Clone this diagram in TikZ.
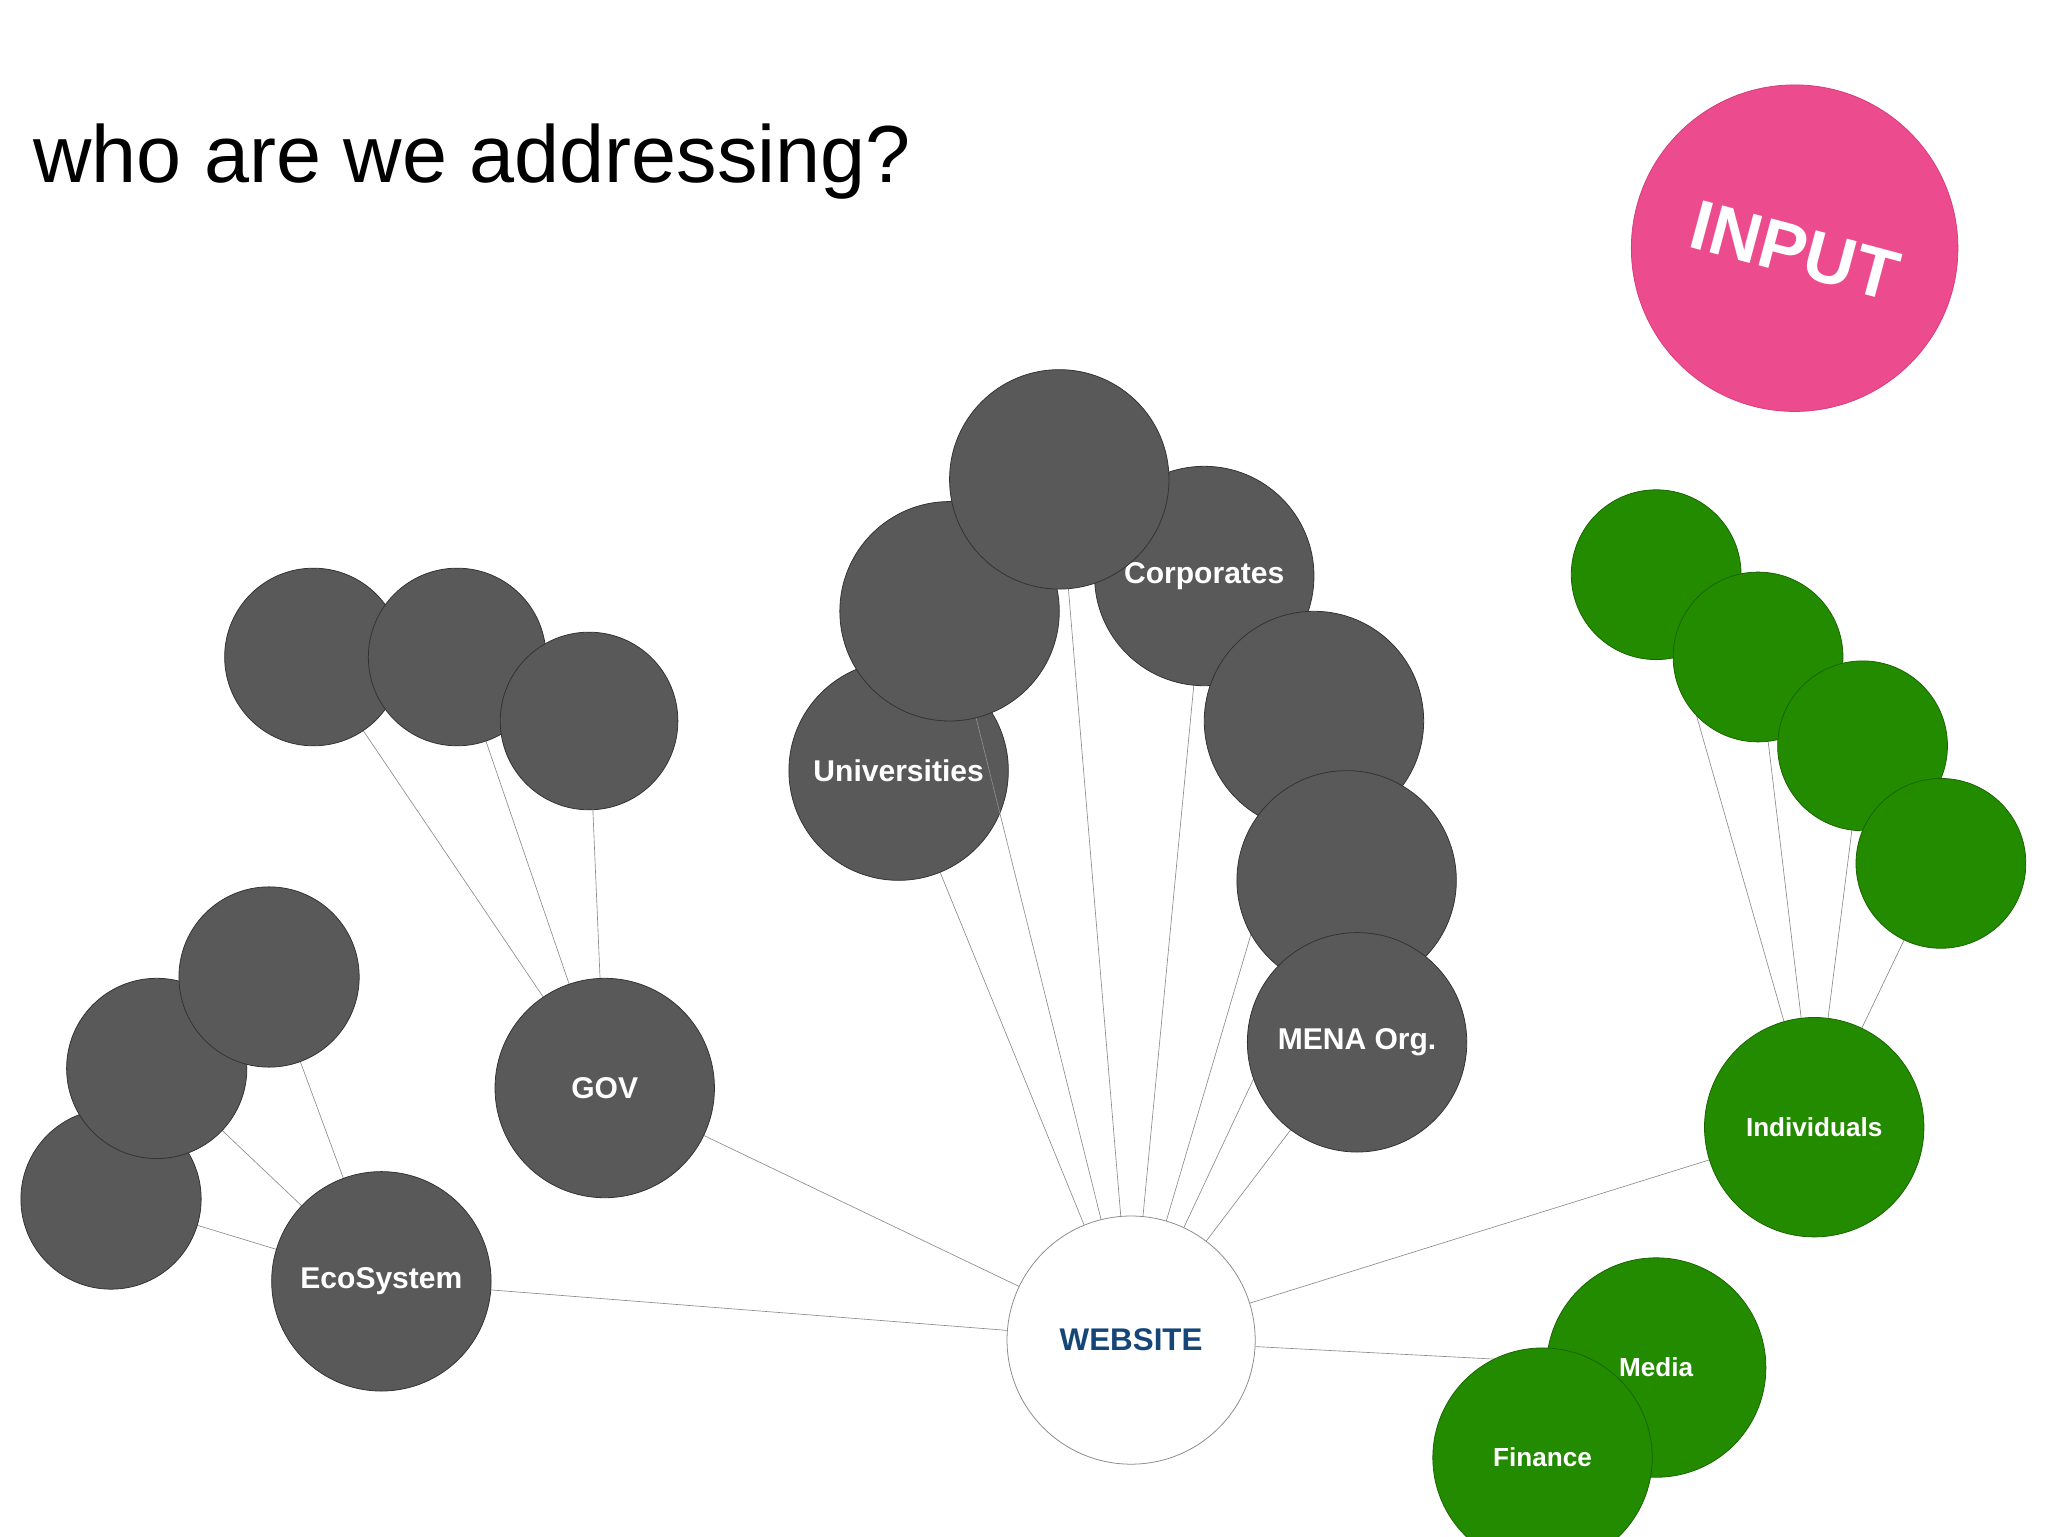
\documentclass[tikz,border=0pt]{standalone}
\usepackage{fontspec}
\setmainfont{Liberation Sans}
\begin{document}
\begin{tikzpicture}[x=1pt,y=-1pt,
  gc/.style={circle,fill=black!65,draw=black!80,line width=0.6pt,inner sep=0pt,text=white,font=\bfseries\fontsize{23}{26}\selectfont},
  gr/.style={circle,fill=grn,draw=grnd,line width=0.6pt,inner sep=0pt,text=white,font=\bfseries\fontsize{20}{23}\selectfont},
  ln/.style={draw=black!45,line width=0.5pt}]
\definecolor{grn}{RGB}{35,139,0}
\definecolor{grnd}{RGB}{25,100,0}
\useasboundingbox (0,0) rectangle (1568,1176);
\clip (0,0) rectangle (1568,1176);
% coordinates
\coordinate (w) at (866,1026);
\coordinate (gov) at (463,833);
\coordinate (eco) at (292,981);
\coordinate (ind) at (1389,863);
\coordinate (med) at (1268,1047);
\coordinate (uni) at (688,590);
\coordinate (c2) at (727,468);
\coordinate (ctop) at (811,367);
\coordinate (cor) at (922,441);
\coordinate (c5) at (1006,552);
\coordinate (c6) at (1031,674);
\coordinate (mena) at (1039,798);
\coordinate (g1) at (240,503);
\coordinate (g2) at (350,503);
\coordinate (g3) at (451,552);
\coordinate (e1) at (206,748);
\coordinate (e2) at (120,818);
\coordinate (e3) at (85,918);
\coordinate (i1) at (1268,440);
\coordinate (i2) at (1346,503);
\coordinate (i3) at (1426,571);
\coordinate (i4) at (1486,661);
% connectors
\foreach \t in {gov,eco,ind,med,uni,ctop,cor,c5,c6,mena} \draw[ln] (w) -- (\t);
\foreach \t in {g1,g2,g3} \draw[ln] (gov) -- (\t);
\foreach \t in {e1,e2,e3} \draw[ln] (eco) -- (\t);
\foreach \t in {i1,i2,i3,i4} \draw[ln] (ind) -- (\t);
% gray circles
\node[gc,minimum size=136pt] (ng1) at (g1) {};
\node[gc,minimum size=136pt] (ng2) at (g2) {};
\node[gc,minimum size=136pt] (ng3) at (g3) {};
\node[gc,minimum size=168pt] (ngov) at (gov) {GOV};
\node[gc,minimum size=138pt] (ne3) at (e3) {};
\node[gc,minimum size=138pt] (ne2) at (e2) {};
\node[gc,minimum size=138pt] (ne1) at (e1) {};
\node[gc,minimum size=168pt] (neco) at (eco) {EcoSystem};
\node[gc,minimum size=168pt] (nuni) at (uni) {Universities};
\draw[ln] (w) -- (c2);
\node[gc,minimum size=168pt] (nc2) at (c2) {};
\node[gc,minimum size=168pt] (ncor) at (cor) {Corporates};
\node[gc,minimum size=168pt] (nctop) at (ctop) {};
\node[gc,minimum size=168pt] (nc5) at (c5) {};
\node[gc,minimum size=168pt] (nc6) at (c6) {};
\node[gc,minimum size=168pt] (nmena) at (mena) {MENA Org.};
% green circles
\node[gr,minimum size=130pt] (ni1) at (i1) {};
\node[gr,minimum size=130pt] (ni2) at (i2) {};
\node[gr,minimum size=130pt] (ni3) at (i3) {};
\node[gr,minimum size=130pt] (ni4) at (i4) {};
\node[gr,minimum size=168pt] (nind) at (ind) {Individuals};
\node[gr,minimum size=168pt] (nmed) at (med) {Media};
\node[gr,minimum size=168pt] (nfin) at (1181,1116) {Finance};
% website
\node[circle,minimum size=190pt,fill=white,draw=black!45,line width=0.6pt,text={rgb,255:red,20;green,70;blue,120},font=\bfseries\fontsize{24}{28}\selectfont] (nw) at (w) {WEBSITE};
% title and input
\node[anchor=west,font=\fontsize{62}{70}\selectfont] (title) at (22,124) {who are we addressing?};
\node[circle,minimum size=250pt,fill={rgb,255:red,236;green,76;blue,142},draw={rgb,255:red,215;green,60;blue,125},line width=0.6pt] (inp) at (1374,190) {};
\node[rotate=-15,text=white,inner sep=0pt,font=\bfseries\fontsize{54}{60}\selectfont] (inpt) at (1374,192) {INPUT};
\end{tikzpicture}
\end{document}
